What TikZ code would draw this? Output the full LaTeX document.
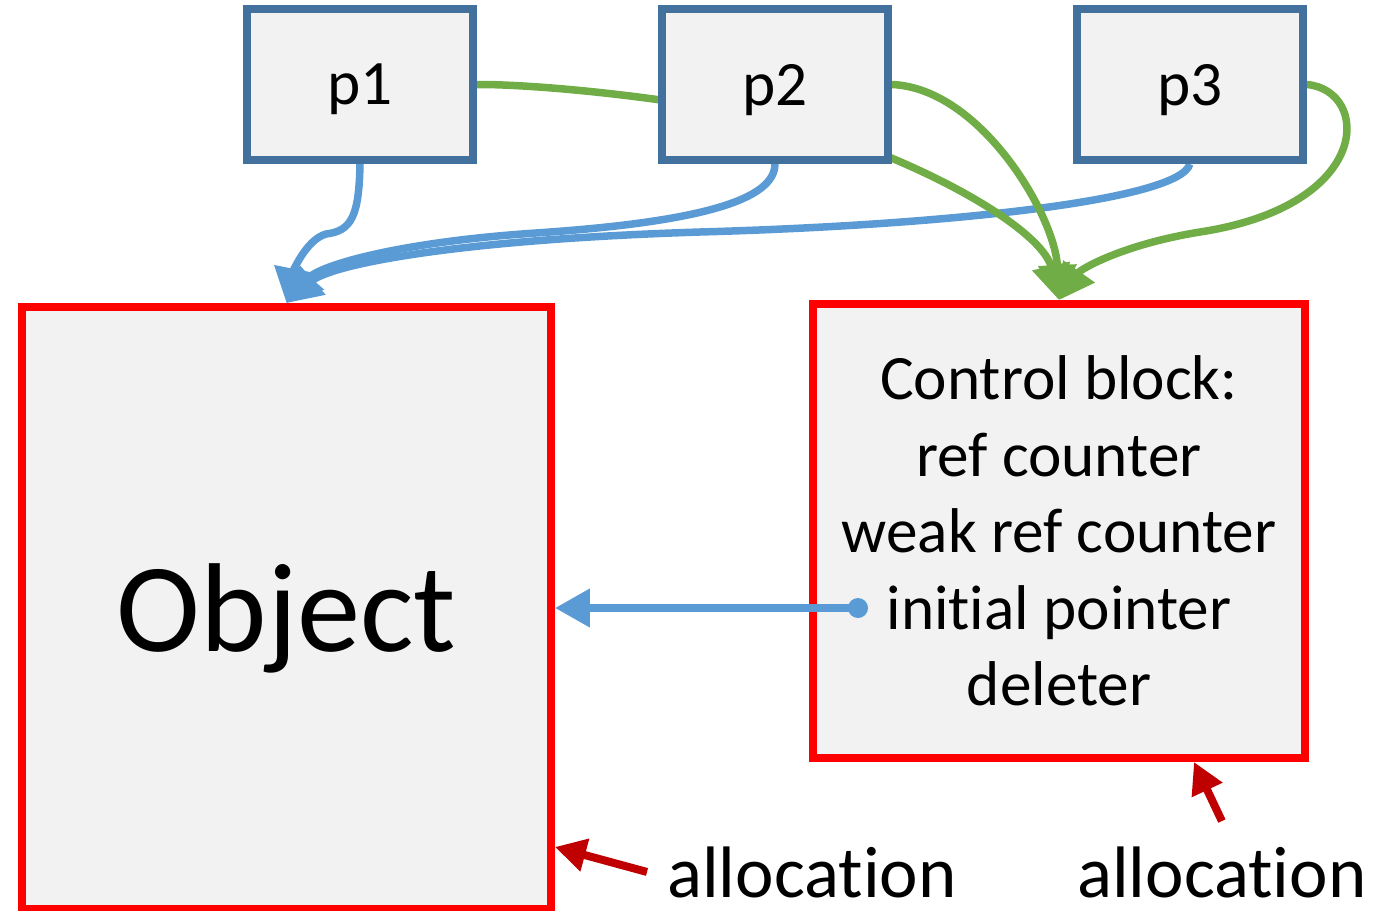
\documentclass[tikz,border=0pt]{standalone}
\usepackage{fontspec}
\setmainfont{Carlito}[Ligatures=CommonOff]
\usetikzlibrary{arrows.meta,positioning,calc,backgrounds}
\definecolor{ptrframe}{HTML}{41719C}
\definecolor{boxfill}{HTML}{F2F2F2}
\definecolor{allocred}{HTML}{FF0000}
\definecolor{markred}{HTML}{C00000}
\definecolor{refblue}{HTML}{5B9BD5}
\definecolor{refgreen}{HTML}{70AD47}

\begin{document}
\begin{tikzpicture}[x=0.02cm,y=-0.02cm,
    ptr/.style={draw=ptrframe,fill=boxfill,line width=0.16cm,minimum width=4.52cm,minimum height=3.02cm,text depth=0pt,font=\fontsize{36}{43}\selectfont},
    block/.style={draw=allocred,fill=boxfill,line width=0.16cm,align=center},
    alloc/.style={inner xsep=0.4cm,inner ysep=0pt,font=\fontsize{41.5}{50}\selectfont},
    owns/.style={refblue,line width=0.15cm,-{Triangle[length=0.7cm,width=0.74cm]}},
    counts/.style={refgreen,line width=0.15cm,-{Triangle[length=0.7cm,width=0.74cm]}},
    marks/.style={markred,line width=0.16cm,-{Triangle[length=0.62cm,width=0.64cm]}}]
      \useasboundingbox (0,0) rectangle (1393,910);
      \node[ptr] (p1) at (360,84.5) {p1}; \node[ptr,right=3.62cm of p1] (p2) {p2}; \node[ptr,right=3.62cm of p2] (p3) {p3};
      \node[block,minimum width=10.58cm,minimum height=12.04cm,text depth=0pt,font=\fontsize{72}{86}\selectfont] (obj) at (286.5,608) {Object};
      \node[block,minimum width=9.84cm,minimum height=9.08cm,font=\fontsize{36}{43.5}\selectfont] (ctrl) at (1059,531) {Control block:\\ref counter\\weak ref counter\\initial pointer\\deleter};
      \node[alloc,anchor=base west] (alloc1) at (647,897) {allocation}; \node[alloc,right=1.6cm of alloc1] (alloc2) {allocation};
      \coordinate (initptr) at ($(ctrl.center)+(-201,77)$);
      \begin{pgfonlayer}{background}
      \draw[owns] (p1.south) .. controls (359,215) and (352,231) .. (326,234) .. controls (305,240) and (292,275) .. (obj.north);
      \draw[owns] (p2.south) .. controls (775,200) and (700,222) .. (536,233) .. controls (400,242) and (320,265) .. (obj.north);
      \draw[owns] (p3.south) .. controls (1180,200) and (950,225) .. (700,232) .. controls (450,240) and (330,265) .. (obj.north);
      \draw[counts] (p1.east) .. controls (560,84) and (800,110) .. (889,157) .. controls (980,195) and (1045,240) .. (ctrl.north);
      \draw[counts] (p2.east) .. controls (980,88) and (1055,215) .. (ctrl.north);
      \draw[counts] (p3.east) .. controls (1370,90) and (1375,205) .. (1200,232) .. controls (1120,245) and (1080,270) .. (ctrl.north);
      \end{pgfonlayer}
      \fill[refblue] (initptr) circle (0.2cm); \draw[owns] (initptr) -- (initptr -| obj.east);
      \draw[marks] (alloc1.west) -- ($(obj.south east)+(0,-66)$); \draw[marks] ([yshift=0.5cm]alloc2.north) -- ($(ctrl.south east)+(-115,0)$);
    \end{tikzpicture}
\end{document}
